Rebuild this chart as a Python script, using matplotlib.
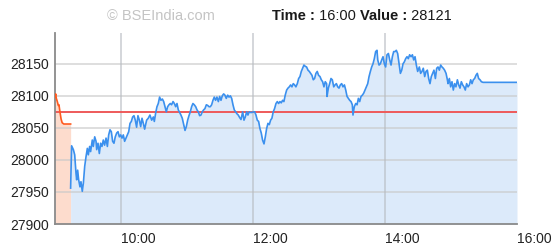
import matplotlib.pyplot as plt
import numpy as np

prev_close = 28074
last_time = "16:00"
last_value = 28121

# pre-open session, minutes after 9:00
pre_min = [0.0, 0.6, 1.2, 2.1, 3.0, 3.6, 4.5, 5.5, 6.5, 8.0, 14.2]
pre_val = [28098, 28103, 28096, 28091, 28085, 28086, 28075, 28064, 28058, 28056, 28056]

# regular session, minutes after 9:00
sx_min = [14.2, 15.1, 16.7, 17.9, 19.1, 19.7, 20.6, 21.5, 22.7, 23.6, 24.8, 25.8, 27.0, 28.2, 29.4,
          30.3, 31.5, 32.4, 33.9, 34.8, 36.1, 37.3, 37.9, 39.1, 40.3, 41.5, 42.7, 43.9, 45.1, 46.4,
          47.6, 48.8, 50.0, 51.2, 52.4, 53.6, 54.8, 56.1, 57.3, 58.5, 59.7, 60.9, 62.1, 63.3, 64.5,
          65.7, 67.0, 68.2, 69.4, 70.6, 71.8, 73.0, 74.2, 75.4, 76.7, 77.9, 79.1, 80.3, 81.5,
          83.3, 84.8, 86.3, 87.9, 89.4, 90.3, 91.5, 92.7, 93.9, 95.1, 96.3, 97.6, 98.8, 100.0,
          101.2, 102.4, 103.6, 104.8, 106.0, 107.3, 108.5, 109.7, 110.9, 112.1, 113.3, 114.5,
          115.7, 117.0, 118.2, 119.4, 120.6, 121.8, 123.0, 124.2, 125.4, 126.6, 127.9, 129.1,
          130.3, 131.5, 132.7, 133.9, 135.1, 136.3, 137.6, 138.8, 140.0, 141.2, 142.4, 143.6,
          144.8, 146.0, 147.2, 148.5, 149.7, 150.9, 152.1, 153.3, 154.5, 155.7, 157.0, 158.2,
          159.4, 160.6, 161.8, 163.0, 164.2, 165.4, 166.6, 167.9, 169.1,
          170.6, 171.8, 173.0, 174.2, 175.4, 176.6, 177.8, 179.0, 180.3, 181.5, 182.7, 183.9,
          185.1, 186.3, 187.5, 188.7, 190.0, 191.2, 192.4, 193.6, 194.8, 196.0, 197.2, 198.4,
          199.6, 200.9, 202.1, 203.3, 204.5, 205.7, 206.9, 208.1, 209.3, 210.6, 211.8, 213.0,
          214.2, 215.4, 216.6, 217.8, 219.0, 220.3, 221.5, 222.7, 223.9, 225.1, 226.3, 227.5,
          228.7, 230.0, 231.2, 232.4, 233.6, 234.8, 236.0, 237.2, 238.4, 239.6, 240.9, 242.1,
          243.3, 244.5, 245.7, 246.9,
          247.3, 248.5, 249.7, 250.9, 252.1, 253.4, 254.6, 255.8, 257.0, 258.2, 259.4, 260.6,
          261.8, 263.1, 264.3, 265.5, 266.7, 267.9, 269.1, 270.3, 270.9, 272.1, 273.4, 274.6,
          275.8, 277.0, 278.2, 279.4, 280.6, 281.8, 283.1, 284.3, 285.5, 286.7, 287.9, 289.1,
          290.3, 291.5, 292.7, 293.4, 294.6, 295.8, 297.0, 298.2, 299.4, 300.6, 301.8, 303.1,
          304.3, 305.5, 306.7, 307.9, 309.1, 310.3, 311.5, 312.8, 314.0, 315.2, 316.4, 317.6,
          318.8, 320.0, 321.2, 322.4, 323.7, 324.9, 326.1, 327.3, 328.5, 329.7,
          331.2, 332.4, 333.6, 334.8, 336.1, 337.3, 338.5, 339.7, 340.9, 342.1, 343.3, 344.5,
          345.8, 347.0, 348.2, 349.4, 350.6, 351.8, 353.0, 354.2, 355.5, 356.7, 357.3, 358.5,
          359.7, 360.9, 362.1, 363.3, 364.5, 365.8, 367.0, 368.2, 369.4, 370.6, 371.8, 373.0,
          374.2, 375.5, 376.7, 377.9, 379.1, 380.3, 381.5, 382.7, 383.9, 385.1, 386.4, 387.6,
          389.1, 420.0]
sx_val = [27956, 28022, 28016, 28008, 27979, 27969, 27984, 27969, 27958, 27966, 27951, 27964, 27990, 28005, 28018,
          28008, 28021, 28013, 28031, 28021, 28036, 28029, 28016, 28026, 28010, 28026, 28021, 28031, 28023, 28034,
          28021, 28039, 28047, 28044, 28029, 28026, 28036, 28042, 28044, 28036, 28039, 28034, 28039, 28029, 28034,
          28039, 28044, 28057, 28060, 28067, 28069, 28062, 28051, 28069, 28062, 28052, 28065, 28057, 28048,
          28062, 28065, 28070, 28062, 28067, 28060, 28073, 28083, 28088, 28098, 28093, 28095, 28091, 28083,
          28075, 28083, 28086, 28088, 28086, 28091, 28088, 28083, 28088, 28078, 28074, 28070,
          28065, 28055, 28046, 28052, 28062, 28069, 28075, 28083, 28088, 28086, 28083, 28078,
          28075, 28069, 28070, 28075, 28078, 28080, 28086, 28085, 28083, 28083, 28086, 28093,
          28098, 28093, 28098, 28091, 28099, 28093, 28100, 28103, 28101, 28096, 28101, 28098,
          28100, 28096, 28086, 28078, 28075, 28072, 28070, 28066, 28063,
          28075, 28062, 28067, 28075, 28070, 28075, 28074, 28074, 28075, 28075, 28070, 28062,
          28060, 28049, 28042, 28031, 28025, 28036, 28049, 28057, 28055, 28062, 28065, 28075,
          28080, 28088, 28091, 28088, 28091, 28089, 28093, 28091, 28101, 28109, 28112, 28114,
          28117, 28114, 28119, 28117, 28114, 28119, 28127, 28130, 28138, 28143, 28148, 28146,
          28145, 28140, 28138, 28135, 28132, 28125, 28127, 28135, 28138, 28132, 28130, 28125,
          28122, 28114, 28122, 28119,
          28099, 28112, 28119, 28127, 28125, 28114, 28117, 28119, 28114, 28112, 28117, 28119,
          28114, 28117, 28109, 28099, 28096, 28093, 28091, 28086, 28070, 28083, 28088, 28086,
          28096, 28091, 28099, 28101, 28104, 28109, 28114, 28119, 28130, 28138, 28145, 28150,
          28158, 28169, 28171, 28156, 28148, 28150, 28156, 28161, 28150, 28145, 28164, 28166,
          28156, 28148, 28161, 28169, 28169, 28171, 28166, 28150, 28135, 28140, 28150, 28153,
          28158, 28161, 28158, 28164, 28161, 28164, 28156, 28161, 28148, 28138,
          28145, 28135, 28138, 28143, 28130, 28138, 28140, 28127, 28119, 28130, 28135, 28140,
          28127, 28143, 28145, 28140, 28148, 28145, 28143, 28140, 28135, 28125, 28119, 28127,
          28114, 28122, 28109, 28119, 28114, 28125, 28117, 28112, 28122, 28117, 28114, 28109,
          28119, 28114, 28117, 28125, 28119, 28125, 28127, 28132, 28135, 28127, 28125, 28122,
          28121, 28121]

x_ticks = [10, 12, 14, 16]
x_labels = ["10:00", "12:00", "14:00", "16:00"]
y_ticks = [27900, 27950, 28000, 28050, 28100, 28150]

plt.rcParams['font.family'] = ['Liberation Sans', 'DejaVu Sans']

fig = plt.figure(figsize=(5.52, 2.48), dpi=100)
ax = fig.add_axes([55 / 552, 1 - 224 / 248, 462 / 552, 191 / 248])

pre_h = 9 + np.array(pre_min) / 60
sx_h = 9 + np.array(sx_min) / 60
y0 = y_ticks[0]

ax.fill_between(pre_h, pre_val, y0, color='#fddccd', lw=0, zorder=1)
ax.fill_between(sx_h, sx_val, y0, color='#dceafa', lw=0, zorder=1)

# grid lines sit above the fills, like the original
for yv in y_ticks[1:]:
    ax.axhline(yv, color='#c8c8c8', lw=1.2, alpha=0.7, zorder=1.5)
for xv in x_ticks[:-1]:
    ax.axvline(xv, color='#b8bcc2', lw=1.2, alpha=0.7, zorder=1.5)

ax.axhline(prev_close, color='#ee5a5a', lw=1.4, zorder=2)
ax.plot(pre_h, pre_val, color='#ff5a1f', lw=1.2, zorder=3)
ax.plot(sx_h, sx_val, color='#3b90ee', lw=1.2, zorder=3)

ax.set_xlim(9, 16)
ax.set_ylim(27900, 28198)
ax.set_xticks(x_ticks)
ax.set_xticklabels(x_labels, ha='left')
ax.set_yticks(y_ticks)
ax.tick_params(length=0, labelsize=10, colors='#222222')
ax.tick_params(axis='x', pad=6)
ax.tick_params(axis='y', pad=4)
for s in ['top', 'right']:
    ax.spines[s].set_visible(False)
for s in ['left', 'bottom']:
    ax.spines[s].set_color('#8a8a8a')
    ax.spines[s].set_linewidth(1.3)
ax.set_facecolor('white')

# header texts
hdr = 10.5
fig.text(107 / 552, 0.935, "© BSEIndia.com", color='#c4c4c4', fontsize=hdr, va='center')
t1 = fig.text(272 / 552, 0.935, "Time :", fontsize=hdr, weight='bold', color='#1a1a1a', va='center')
t2 = ax.annotate(" " + last_time + " ", xy=(1, 0), xycoords=t1, va='bottom', fontsize=hdr, color='#1a1a1a')
t3 = ax.annotate("Value :", xy=(1, 0), xycoords=t2, va='bottom', fontsize=hdr, weight='bold', color='#1a1a1a')
ax.annotate(" " + str(last_value), xy=(1, 0), xycoords=t3, va='bottom', fontsize=hdr, color='#1a1a1a')

fig.savefig("out.png", dpi=100)
